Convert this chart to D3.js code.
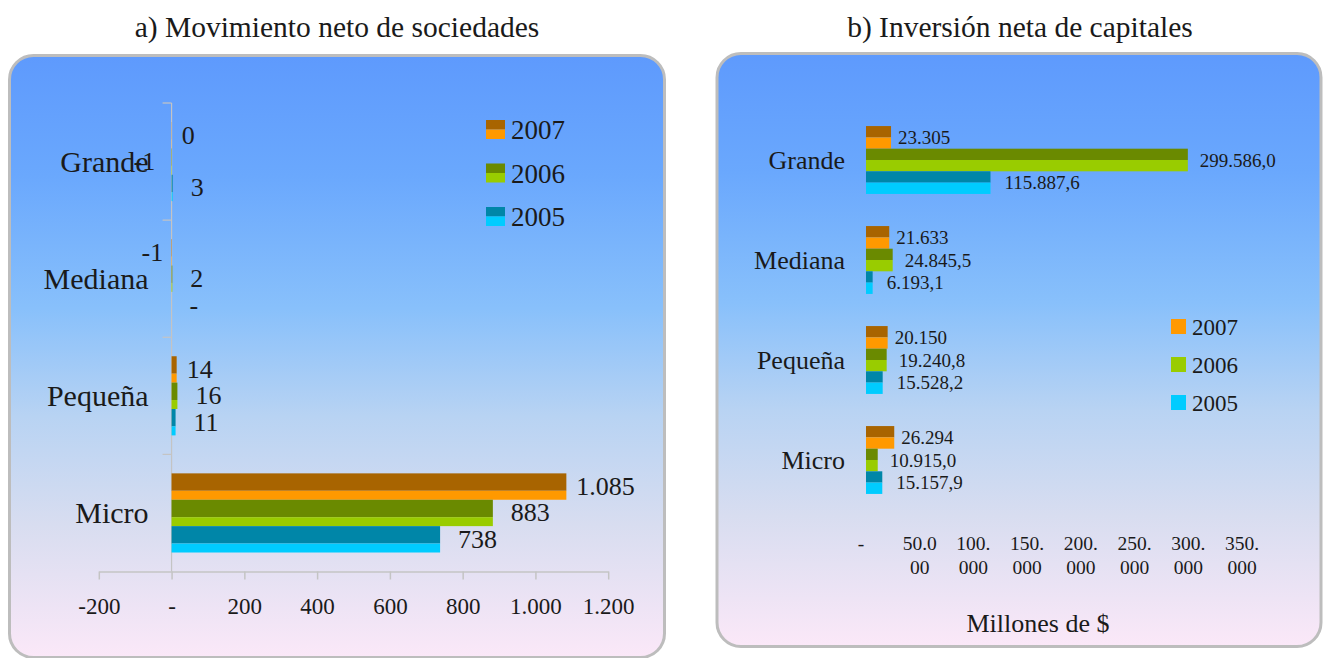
<!DOCTYPE html>
<html>
<head>
<meta charset="utf-8">
<script src="https://cdn.jsdelivr.net/npm/d3@7/dist/d3.min.js"></script>
<style>
  html, body { margin: 0; padding: 0; background: #ffffff; }
  svg { display: block; }
  text { font-family: "Liberation Serif", "Times New Roman", serif; fill: #1a1a1a; }
</style>
</head>
<body>
<svg id="chart" width="1326" height="658"></svg>
<script>
// ---------------- DATA ----------------
const categories = ["Grande", "Mediana", "Pequeña", "Micro"];
const years = ["2007", "2006", "2005"];

// a) Movimiento neto de sociedades
const sociedades2007 = [0.4, -1, 14, 1085];
const sociedades2006 = [-1, 2, 16, 883];
const sociedades2005 = [3, 0, 11, 738];
const ticksSociedades = [-200, 0, 200, 400, 600, 800, 1000, 1200];

// b) Inversión neta de capitales (millones de $)
const capitales2007 = [23305, 21633, 20150, 26294];
const capitales2006 = [299586.0, 24845.5, 19240.8, 10915.0];
const capitales2005 = [115887.6, 6193.1, 15528.2, 15157.9];
const ticksCapitales = [0, 50000, 100000, 150000, 200000, 250000, 300000, 350000];

const titleA = "a) Movimiento neto de sociedades";
const titleB = "b) Inversión neta de capitales";
const axisTitleB = "Millones de $";

// ---------------- STYLE ----------------
const colorsDark  = { "2007": "#a86400", "2006": "#6a8a00", "2005": "#0086a8" };
const colorsLight = { "2007": "#ff9900", "2006": "#99cc00", "2005": "#00ccff" };
const gapA = { "2007": 10, "2006": 18, "2005": 18 };
const gapB = { "2007": 7, "2006": 12, "2005": 14 };

const locale = d3.formatLocale({ decimal: ",", thousands: ".", grouping: [3], currency: ["$", ""], minus: "-" });
const fmt0 = locale.format(",.0f");
const fmt1 = locale.format(",.1f");

const svg = d3.select("#chart");
const defs = svg.append("defs");

// background gradient
const bg = defs.append("linearGradient").attr("id", "bg").attr("x1", 0).attr("y1", 0).attr("x2", 0).attr("y2", 1);
[[0, "#5e9afd"], [0.2, "#6aa8fd"], [0.42, "#88c0fb"], [0.6, "#b8d3f3"], [0.78, "#d8ddf0"], [1, "#fbe8f8"]]
  .forEach(([o, c]) => bg.append("stop").attr("offset", o).attr("stop-color", c));

// panels
svg.append("rect").attr("x", 9.5).attr("y", 55.5).attr("width", 655).attr("height", 602)
  .attr("rx", 24).attr("fill", "url(#bg)").attr("stroke", "#bdbdbd").attr("stroke-width", 3);
svg.append("rect").attr("x", 717).attr("y", 53.5).attr("width", 604).attr("height", 593)
  .attr("rx", 24).attr("fill", "url(#bg)").attr("stroke", "#bdbdbd").attr("stroke-width", 3);

// titles
svg.append("text").attr("x", 337).attr("y", 27).attr("text-anchor", "middle")
  .attr("dominant-baseline", "central").style("font-size", "29.5px").text(titleA);
svg.append("text").attr("x", 1020).attr("y", 27).attr("text-anchor", "middle")
  .attr("dominant-baseline", "central").style("font-size", "29.5px").text(titleB);

// helper to draw two-tone bars
function drawBars(g, rows, x, y, inner, darkFrac) {
  rows.forEach(r => {
    const x0 = x(Math.min(0, r.value)), x1 = x(Math.max(0, r.value));
    const top = y(r.cat) + inner(r.year), h = inner.bandwidth();
    g.append("rect").attr("x", x0).attr("y", top).attr("width", x1 - x0).attr("height", h * darkFrac)
      .attr("fill", colorsDark[r.year]);
    g.append("rect").attr("x", x0).attr("y", top + h * darkFrac).attr("width", x1 - x0).attr("height", h * (1 - darkFrac))
      .attr("fill", colorsLight[r.year]);
  });
}

// ================= CHART A =================
(function () {
  const g = svg.append("g");
  const x = d3.scaleLinear().domain([-200, 1200]).range([98.8, 608.2]);
  const y = d3.scaleBand().domain(categories).range([103, 571.5]);
  const inner = d3.scaleBand().domain(years).range([0, y.bandwidth()]).paddingOuter(0.72);
  const series = { "2007": sociedades2007, "2006": sociedades2006, "2005": sociedades2005 };
  const rows = [];
  years.forEach(yr => categories.forEach((c, i) => rows.push({ cat: c, year: yr, value: series[yr][i] })));

  // x axis
  const axisY = y.range()[1];
  const xAxis = d3.axisBottom(x).tickValues(ticksSociedades).tickSize(8).tickSizeOuter(0).tickPadding(18)
    .tickFormat(v => v === 0 ? "-" : fmt0(v));
  const ax = g.append("g").attr("transform", `translate(0,${axisY})`).call(xAxis);
  ax.select(".domain").attr("stroke", "#c4c4c4").attr("stroke-width", 1.5);
  ax.selectAll(".tick line").attr("stroke", "#c4c4c4").attr("stroke-width", 1.5);
  ax.selectAll(".tick text").style("font-size", "23px").style("font-family", "Liberation Serif").attr("fill", "#1a1a1a");

  // y axis
  const x0 = x(0);
  g.append("line").attr("x1", x0).attr("x2", x0).attr("y1", y.range()[0]).attr("y2", axisY)
    .attr("stroke", "#c4c4c4").attr("stroke-width", 1.2);
  categories.forEach(c => {
    g.append("line").attr("x1", x0 - 9).attr("x2", x0).attr("y1", y(c)).attr("y2", y(c))
      .attr("stroke", "#c4c4c4").attr("stroke-width", 1.2);
    g.append("text").attr("x", x0 - 23).attr("y", y(c) + y.bandwidth() / 2)
      .attr("text-anchor", "end").attr("dominant-baseline", "central")
      .style("font-size", "30px").text(c);
  });

  drawBars(g, rows, x, y, inner, 0.66);

  // data labels
  rows.forEach(r => {
    const cy = y(r.cat) + inner(r.year) + inner.bandwidth() / 2;
    const label = r.value === 0 ? "-" : fmt0(r.value);
    const neg = r.value < 0;
    const xe = x(r.value) + (neg ? -gapA[r.year] + 2 : gapA[r.year]);
    g.append("text").attr("x", xe).attr("y", cy)
      .attr("text-anchor", neg ? "end" : "start").attr("dominant-baseline", "central")
      .style("font-size", "26px").text(label);
  });

  // legend
  years.forEach((yr, i) => {
    const ly = 120 + i * 43.5;
    g.append("rect").attr("x", 486).attr("y", ly).attr("width", 19).attr("height", 9.5).attr("fill", colorsDark[yr]);
    g.append("rect").attr("x", 486).attr("y", ly + 9.5).attr("width", 19).attr("height", 9.5).attr("fill", colorsLight[yr]);
    g.append("text").attr("x", 511).attr("y", ly + 10).attr("dominant-baseline", "central")
      .style("font-size", "27px").text(yr);
  });
})();

// ================= CHART B =================
(function () {
  const g = svg.append("g");
  const x = d3.scaleLinear().domain([0, 350000]).range([866, 1242]);
  const y = d3.scaleBand().domain(categories).range([110, 510]);
  const inner = d3.scaleBand().domain(years).range([0, y.bandwidth()]).paddingOuter(0.71);
  const series = { "2007": capitales2007, "2006": capitales2006, "2005": capitales2005 };
  const rows = [];
  years.forEach(yr => categories.forEach((c, i) => rows.push({ cat: c, year: yr, value: series[yr][i] })));

  categories.forEach(c => {
    g.append("text").attr("x", x(0) - 21).attr("y", y(c) + y.bandwidth() / 2)
      .attr("text-anchor", "end").attr("dominant-baseline", "central")
      .style("font-size", "26px").text(c);
  });

  drawBars(g, rows, x, y, inner, 0.5);

  rows.forEach(r => {
    const cy = y(r.cat) + inner(r.year) + inner.bandwidth() / 2;
    const label = r.year === "2007" ? fmt0(r.value) : fmt1(r.value);
    g.append("text").attr("x", x(r.value) + gapB[r.year]).attr("y", cy)
      .attr("dominant-baseline", "central").style("font-size", "19px").text(label);
  });

  // x tick labels (wrapped like the original)
  ticksCapitales.forEach(v => {
    const s = v === 0 ? "-" : fmt0(v);
    const t = g.append("text").attr("text-anchor", "middle").style("font-size", "19.5px");
    const parts = s.length > 4 ? [s.slice(0, 4), s.slice(4)] : [s];
    parts.forEach((p, k) => {
      t.append("tspan").attr("x", x(v) + (v === 0 ? -5 : 0)).attr("y", 543 + k * 24)
        .attr("dominant-baseline", "central").text(p);
    });
  });

  g.append("text").attr("x", 1038).attr("y", 623).attr("text-anchor", "middle")
    .attr("dominant-baseline", "central").style("font-size", "26px").text(axisTitleB);

  // legend
  years.forEach((yr, i) => {
    const ly = 319 + i * 38;
    g.append("rect").attr("x", 1171).attr("y", ly).attr("width", 15).attr("height", 15).attr("fill", colorsLight[yr]);
    g.append("text").attr("x", 1192).attr("y", ly + 8).attr("dominant-baseline", "central")
      .style("font-size", "23px").text(yr);
  });
})();
</script>
</body>
</html>
